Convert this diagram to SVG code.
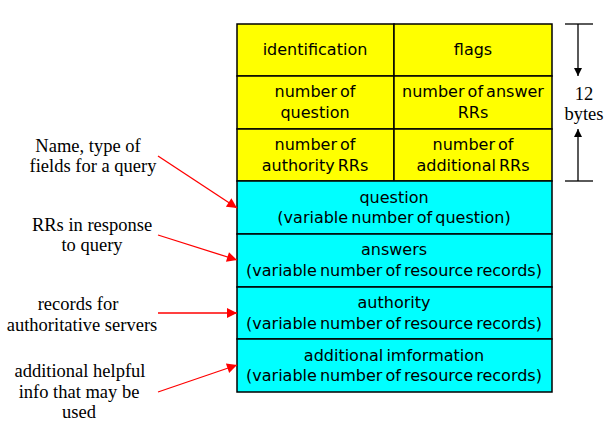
<svg xmlns="http://www.w3.org/2000/svg" width="614" height="427" viewBox="0 0 614 427">
<style>
.y{fill:#ffff00;stroke:#000;stroke-width:1.5}
.c{fill:#00ffff;stroke:#000;stroke-width:1.5}
.t{font-family:"DejaVu Sans","Liberation Sans",sans-serif;font-size:16px;fill:#000;text-anchor:middle;word-spacing:-2px}
.s{font-family:"Liberation Serif","Times New Roman",serif;font-size:18.5px;fill:#000;text-anchor:middle}
.a{stroke:#ff0000;stroke-width:1.3;fill:none;marker-end:url(#ra)}
.k{stroke:#000;stroke-width:1.3;fill:none}
</style>
<defs>
<marker id="ra" viewBox="0 0 10 10" refX="10" refY="5" markerWidth="13" markerHeight="10" markerUnits="userSpaceOnUse" orient="auto"><path d="M0,0 L10,5 L0,10 Z" fill="#ff0000"/></marker>
<marker id="ka" viewBox="0 0 10 10" refX="10" refY="5" markerWidth="13" markerHeight="8" markerUnits="userSpaceOnUse" orient="auto"><path d="M0,0 L10,5 L0,10 Z" fill="#000"/></marker>
</defs>
<g id="identification"><rect class="y" x="237" y="24" width="157" height="52"/><text class="t" x="315" y="55">identification</text></g>
<g id="flags"><rect class="y" x="394" y="24" width="158" height="52"/><text class="t" x="473" y="55">flags</text></g>
<g id="numq"><rect class="y" x="237" y="76" width="157" height="53"/><text class="t" x="315" y="97">number of</text><text class="t" x="315" y="118">question</text></g>
<g id="numans"><rect class="y" x="394" y="76" width="158" height="53"/><text class="t" x="473" y="97">number of answer</text><text class="t" x="473" y="118">RRs</text></g>
<g id="numauth"><rect class="y" x="237" y="129" width="157" height="52"/><text class="t" x="315" y="150">number of</text><text class="t" x="315" y="171">authority RRs</text></g>
<g id="numadd"><rect class="y" x="394" y="129" width="158" height="52"/><text class="t" x="473" y="150">number of</text><text class="t" x="473" y="171">additional RRs</text></g>
<g id="question"><rect class="c" x="237" y="181" width="315" height="53"/><text class="t" x="394" y="203">question</text><text class="t" x="394" y="223">(variable number of question)</text></g>
<g id="answers"><rect class="c" x="237" y="234" width="315" height="53"/><text class="t" x="394" y="255">answers</text><text class="t" x="394" y="276">(variable number of resource records)</text></g>
<g id="authority"><rect class="c" x="237" y="287" width="315" height="52"/><text class="t" x="394" y="308">authority</text><text class="t" x="394" y="329">(variable number of resource records)</text></g>
<g id="additional"><rect class="c" x="237" y="339" width="315" height="53"/><text class="t" x="394" y="361">additional imformation</text><text class="t" x="394" y="381">(variable number of resource records)</text></g>
<g id="bytes">
<line class="k" x1="565" y1="24" x2="593" y2="24"/>
<line class="k" x1="565" y1="181" x2="593" y2="181"/>
<line class="k" x1="578" y1="24" x2="578" y2="76" marker-end="url(#ka)"/>
<line class="k" x1="578" y1="181" x2="578" y2="129" marker-end="url(#ka)"/>
<text class="s" x="584" y="100">12</text>
<text class="s" x="584" y="120">bytes</text>
</g>
<g id="lbl1"><text class="s" x="88" y="152">Name, type of</text><text class="s" x="93" y="172">fields for a query</text></g>
<g id="lbl2"><text class="s" x="92" y="231">RRs in response</text><text class="s" x="92" y="251">to query</text></g>
<g id="lbl3"><text class="s" x="78" y="310">records for</text><text class="s" x="82" y="331">authoritative servers</text></g>
<g id="lbl4"><text class="s" x="80" y="377">additional helpful</text><text class="s" x="79" y="398">info that may be</text><text class="s" x="79" y="418">used</text></g>
<g id="connectors">
<line class="a" x1="158" y1="156" x2="237" y2="208"/>
<line class="a" x1="158" y1="235" x2="237" y2="260"/>
<line class="a" x1="158" y1="313" x2="237" y2="313"/>
<line class="a" x1="158" y1="392" x2="237" y2="365"/>
</g>
</svg>
